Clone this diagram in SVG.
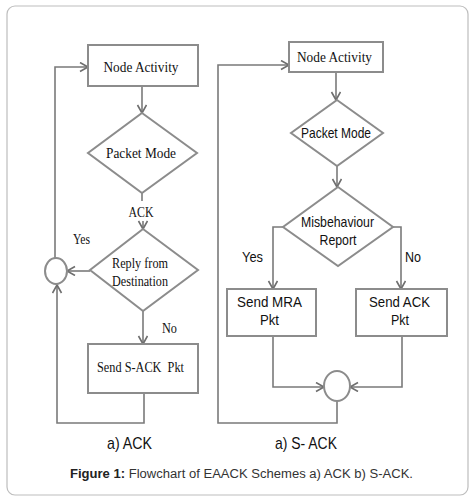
<svg xmlns="http://www.w3.org/2000/svg" width="476" height="503" viewBox="0 0 476 503">
<style>
.box{fill:#fff;stroke:#8c8c8c;stroke-width:2}
.ln{fill:none;stroke:#7a7a7a;stroke-width:1.6}
.serif{font-family:"Liberation Serif","Times New Roman",serif;font-size:15px;fill:#111}
.sans{font-family:"Liberation Sans",Arial,sans-serif;font-size:15px;fill:#111}
.lbl{font-family:"Liberation Sans",Arial,sans-serif;font-size:17px;fill:#111}
.cap{font-family:"Liberation Sans",Arial,sans-serif;font-size:12.5px;fill:#333}
</style>
<defs>
<marker id="arr" markerUnits="userSpaceOnUse" markerWidth="12" markerHeight="12" refX="9" refY="5" orient="auto">
<path d="M1,0.5 L9,5 L1,9.5" fill="none" stroke="#6e6e6e" stroke-width="1.6"/>
</marker>
</defs>
<rect x="7" y="6" width="461" height="489" rx="8" fill="#fff" stroke="#bdbdbd" stroke-width="1.2"/>

<g id="connectors">
<path class="ln" d="M142,86 V113" marker-end="url(#arr)"/>
<path class="ln" d="M142,193 V201"/>
<path class="ln" d="M143,221 V229" marker-end="url(#arr)"/>
<path class="ln" d="M90,271 H67" marker-end="url(#arr)"/>
<path class="ln" d="M55,258 V67 H88" marker-end="url(#arr)"/>
<path class="ln" d="M143,311 V344" marker-end="url(#arr)"/>
<path class="ln" d="M144,393 V423 H57 V285" marker-end="url(#arr)"/>
<path class="ln" d="M336,72 V100" marker-end="url(#arr)"/>
<path class="ln" d="M337,166 V187" marker-end="url(#arr)"/>
<path class="ln" d="M283,227 H273 V289" marker-end="url(#arr)"/>
<path class="ln" d="M393,227 H401 V289" marker-end="url(#arr)"/>
<path class="ln" d="M273,336 V387 H324" marker-end="url(#arr)"/>
<path class="ln" d="M402,336 V387 H350" marker-end="url(#arr)"/>
<path class="ln" d="M337,401 V423 H218 V65 H289" marker-end="url(#arr)"/>
</g>

<g id="a-node-activity">
<rect class="box" x="88" y="45" width="110" height="41"/>
<text class="serif" x="141" y="72" text-anchor="middle" textLength="75" lengthAdjust="spacingAndGlyphs">Node Activity</text>
</g>
<g id="a-packet-mode">
<polygon class="box" points="142,113 197,153 142,193 88,153"/>
<text class="serif" x="141" y="158" text-anchor="middle" textLength="70" lengthAdjust="spacingAndGlyphs">Packet Mode</text>
</g>
<g id="a-ack-label">
<text class="serif" x="141" y="217" text-anchor="middle" textLength="25" lengthAdjust="spacingAndGlyphs">ACK</text>
</g>
<g id="a-reply">
<polygon class="box" points="143,229 198,270 143,311 90,270"/>
<text class="serif" x="140" y="268" text-anchor="middle" textLength="56" lengthAdjust="spacingAndGlyphs">Reply from</text>
<text class="serif" x="140" y="286" text-anchor="middle" textLength="56" lengthAdjust="spacingAndGlyphs">Destination</text>
</g>
<g id="a-yes"><text class="serif" x="73" y="244" textLength="17" lengthAdjust="spacingAndGlyphs">Yes</text></g>
<g id="a-no"><text class="serif" x="162" y="333" textLength="15" lengthAdjust="spacingAndGlyphs">No</text></g>
<g id="a-circle"><ellipse class="box" cx="56" cy="271" rx="11" ry="13"/></g>
<g id="a-send-sack">
<rect class="box" x="88" y="344" width="110" height="49"/>
<text class="serif" x="97" y="372" textLength="87" lengthAdjust="spacingAndGlyphs" xml:space="preserve">Send S-ACK  Pkt</text>
</g>

<g id="b-node-activity">
<rect class="box" x="289" y="42" width="94" height="30"/>
<text class="serif" x="334.5" y="62" text-anchor="middle" textLength="75" lengthAdjust="spacingAndGlyphs">Node Activity</text>
</g>
<g id="b-packet-mode">
<polygon class="box" points="337,100 383,133 337,166 291,133"/>
<text class="sans" x="336" y="138" text-anchor="middle" textLength="70" lengthAdjust="spacingAndGlyphs">Packet Mode</text>
</g>
<g id="b-misbehaviour">
<polygon class="box" points="338,187 393,227 338,266 283,227"/>
<text class="sans" x="337.5" y="227" text-anchor="middle" textLength="73" lengthAdjust="spacingAndGlyphs">Misbehaviour</text>
<text class="sans" x="338" y="245" text-anchor="middle" textLength="37" lengthAdjust="spacingAndGlyphs">Report</text>
</g>
<g id="b-yes"><text class="sans" x="242" y="262" textLength="21" lengthAdjust="spacingAndGlyphs">Yes</text></g>
<g id="b-no"><text class="sans" x="405" y="262" textLength="16" lengthAdjust="spacingAndGlyphs">No</text></g>
<g id="b-send-mra">
<rect class="box" x="227" y="289" width="89" height="47"/>
<text class="sans" x="269.5" y="307" text-anchor="middle" textLength="65" lengthAdjust="spacingAndGlyphs">Send MRA</text>
<text class="sans" x="269.5" y="325" text-anchor="middle" textLength="19" lengthAdjust="spacingAndGlyphs">Pkt</text>
</g>
<g id="b-send-ack">
<rect class="box" x="356" y="289" width="91" height="47"/>
<text class="sans" x="399.5" y="307" text-anchor="middle" textLength="61" lengthAdjust="spacingAndGlyphs">Send ACK</text>
<text class="sans" x="400" y="325" text-anchor="middle" textLength="18" lengthAdjust="spacingAndGlyphs">Pkt</text>
</g>
<g id="b-circle"><ellipse class="box" cx="337" cy="386" rx="13" ry="15"/></g>

<g id="labels">
<text class="lbl" x="107" y="449" textLength="45" lengthAdjust="spacingAndGlyphs">a) ACK</text>
<text class="lbl" x="275" y="449" textLength="62" lengthAdjust="spacingAndGlyphs">a) S- ACK</text>
<text class="cap" x="70" y="478" textLength="343" lengthAdjust="spacingAndGlyphs"><tspan font-weight="bold" fill="#222">Figure 1:</tspan> Flowchart of EAACK Schemes a) ACK b) S-ACK.</text>
</g>
</svg>
